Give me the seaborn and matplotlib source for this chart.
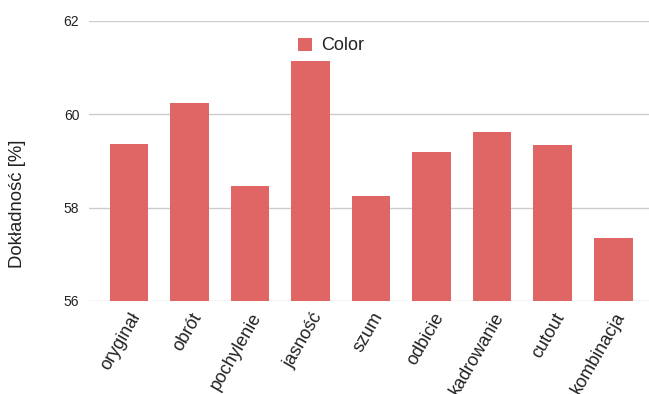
import matplotlib
matplotlib.use("Agg")
import matplotlib.pyplot as plt
import matplotlib.transforms as mtransforms
import seaborn as sns
import pandas as pd

categories = ["oryginał", "obrót", "pochylenie", "jasność", "szum",
              "odbicie", "kadrowanie", "cutout", "kombinacja"]
accuracy = [59.36, 60.24, 58.46, 61.15, 58.26, 59.19, 59.63, 59.34, 57.36]
series_name = "Color"
y_ticks = [56, 58, 60, 62]

sns.set_theme(style="white")
plt.rcParams["font.family"] = ["Liberation Sans", "DejaVu Sans"]

df = pd.DataFrame({"augmentacja": categories, "dokladnosc": accuracy,
                   "seria": [series_name] * len(categories)})

fig = plt.figure(figsize=(6.49, 3.94), dpi=100)
ax = fig.add_axes([89 / 649, 1 - 301 / 394, 560 / 649, 280 / 394])

sns.barplot(data=df, x="augmentacja", y="dokladnosc", hue="seria",
            palette=["#e06666"], width=0.636, saturation=1, ax=ax,
            linewidth=0)

ax.set_ylim(56, 62)
ax.set_yticks(y_ticks)
ax.set_xlim(-0.66, 8.59)
ax.yaxis.grid(True, color="#cccccc", linewidth=1)
ax.set_axisbelow(True)
for s in ax.spines.values():
    s.set_visible(False)
ax.tick_params(axis="both", length=0)
ax.tick_params(axis="y", labelsize=10, pad=7, colors="#222222")

ax.set_xlabel("")
ax.set_ylabel("Dokładność [%]", fontsize=13.3, color="#222222")
ax.yaxis.set_label_coords(-0.1125, 0.346)

offset = mtransforms.ScaledTranslation(8 / 100, -8 / 100, fig.dpi_scale_trans)
ax.set_xticks(range(len(categories)))
ax.set_xticklabels(categories, rotation=60, ha="right", va="center",
                   rotation_mode="anchor", fontsize=13, color="#222222")
for lbl in ax.get_xticklabels():
    lbl.set_transform(lbl.get_transform() + offset)

leg = ax.legend(loc="center left", bbox_to_anchor=(298 / 649, 1 - 46 / 394),
                bbox_transform=fig.transFigure, frameon=False, fontsize=13,
                handlelength=0.75, handleheight=0.75, handletextpad=0.55,
                borderpad=0, borderaxespad=0)
for t in leg.get_texts():
    t.set_color("#222222")

fig.savefig("out.png", dpi=100)
